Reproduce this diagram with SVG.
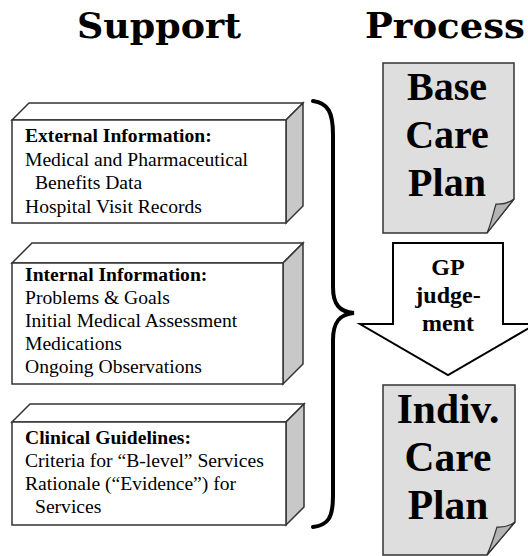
<svg xmlns="http://www.w3.org/2000/svg" width="528" height="556" viewBox="0 0 528 556">
<defs>
<style>
.title{font-family:"DejaVu Serif","Liberation Serif",serif;font-weight:bold;font-size:36px;fill:#000}
.bt{font-family:"Liberation Serif","Times New Roman",serif;font-size:19.6px;fill:#000}
.b{font-weight:bold}
.face{fill:#fff;stroke:#333;stroke-width:1.5;stroke-linejoin:miter}
.side{fill:#c8c8c8;stroke:#333;stroke-width:1.5}
.page{fill:#dedede;stroke:#333;stroke-width:1.5}
.curl{fill:#b4b4b4;stroke:#333;stroke-width:1.2}
.pt{font-family:"Liberation Serif","Times New Roman",serif;font-weight:bold;font-size:40px;text-anchor:middle;fill:#000}
.pt2{font-size:41.5px}
.gp{font-family:"Liberation Serif","Times New Roman",serif;font-weight:bold;font-size:24px;text-anchor:middle;fill:#000}
.brace{fill:none;stroke:#000;stroke-width:4;stroke-linecap:round}
</style>
</defs>
<rect width="528" height="556" fill="#fff"/>
<text class="title" x="159" y="38" text-anchor="middle" textLength="164" lengthAdjust="spacingAndGlyphs">Support</text>
<text class="title" x="445" y="38" text-anchor="middle" textLength="160" lengthAdjust="spacingAndGlyphs">Process</text>

<g id="external">
<polygon class="face" points="12,120 29,103 303,103 286,120"/>
<polygon class="side" points="286,120 303,103 303,206 286,223"/>
<rect class="face" x="12" y="120" width="274" height="103"/>
<text class="bt b" x="25" y="142">External Information:</text>
<text class="bt" x="25" y="166">Medical and Pharmaceutical</text>
<text class="bt" x="35" y="189">Benefits Data</text>
<text class="bt" x="25" y="213">Hospital Visit Records</text>
</g>

<g id="internal">
<polygon class="face" points="12,263 32,243 303,243 283,263"/>
<polygon class="side" points="283,263 303,243 303,364 283,384"/>
<rect class="face" x="12" y="263" width="271" height="121"/>
<text class="bt b" x="25" y="281">Internal Information:</text>
<text class="bt" x="25" y="304">Problems &amp; Goals</text>
<text class="bt" x="25" y="327">Initial Medical Assessment</text>
<text class="bt" x="25" y="350">Medications</text>
<text class="bt" x="25" y="373">Ongoing Observations</text>
</g>

<g id="guidelines">
<polygon class="face" points="12,422 30,404 304,404 286,422"/>
<polygon class="side" points="286,422 304,404 304,507 286,525"/>
<rect class="face" x="12" y="422" width="274" height="103"/>
<text class="bt b" x="25" y="444">Clinical Guidelines:</text>
<text class="bt" x="25" y="467">Criteria for “B-level” Services</text>
<text class="bt" x="25" y="490">Rationale (“Evidence”) for</text>
<text class="bt" x="35" y="513">Services</text>
</g>

<g id="connectors">
<path class="brace" d="M313,101 C328,103 333,112 333,135 L333,287 C333,305 340,312 354,313 C340,314 333,322 333,340 L333,496 C333,518 328,525 313,527"/>
</g>

<g id="base-plan">
<path class="page" d="M383,63 H514 V199 L487,233 H383 Z"/>
<path class="curl" d="M514,199 C506,205 500,204 496,204 C493,214 491,224 487,233 Z"/>
<text class="pt" x="447" y="100">Base</text>
<text class="pt" x="447" y="148">Care</text>
<text class="pt" x="447" y="196">Plan</text>
</g>

<g id="gp-judgement">
<path d="M393,243 H503 V324 H536 L448,375 L360,324 H393 Z" fill="#fff" stroke="#000" stroke-width="2"/>
<text class="gp" x="448" y="275">GP</text>
<text class="gp" x="448" y="303">judge-</text>
<text class="gp" x="448" y="331">ment</text>
</g>

<g id="indiv-plan">
<path class="page" d="M383,385 H515 V522 L487,555 H383 Z"/>
<path class="curl" d="M515,522 C507,528 501,527 497,527 C494,537 491,546 487,555 Z"/>
<text class="pt pt2" x="448" y="423">Indiv.</text>
<text class="pt pt2" x="448" y="471">Care</text>
<text class="pt pt2" x="448" y="519">Plan</text>
</g>
</svg>
